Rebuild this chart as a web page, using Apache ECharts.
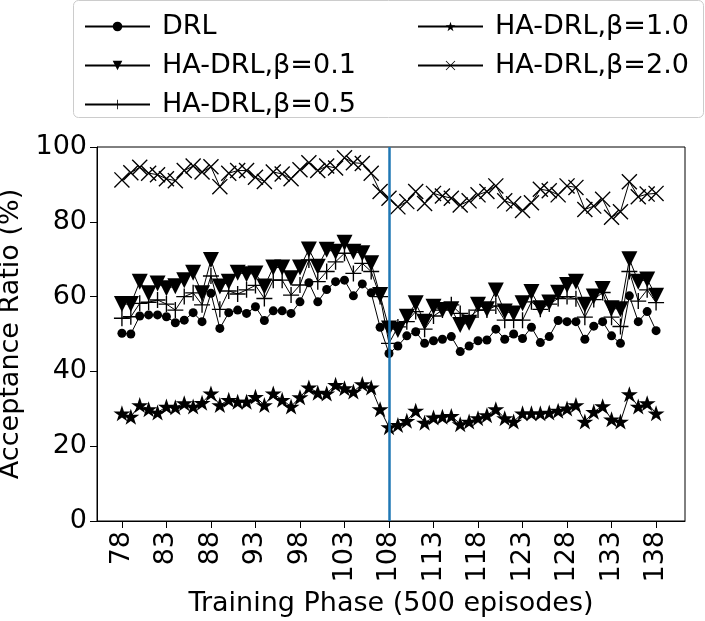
<!DOCTYPE html>
<html>
<head>
<meta charset="utf-8">
<script src="https://cdn.jsdelivr.net/npm/echarts@6/dist/echarts.min.js"></script>
<style>
  html, body { margin: 0; padding: 0; background: #fff; }
  #chart { width: 705px; height: 621px; }
</style>
</head>
<body>
<div id="chart"></div>
<script>
// training phases (x axis)
const phases = [78, 79, 80, 81, 82, 83, 84, 85, 86, 87, 88, 89, 90, 91, 92, 93, 94, 95, 96, 97,
  98, 99, 100, 101, 102, 103, 104, 105, 106, 107, 108, 109, 110, 111, 112, 113, 114, 115, 116, 117,
  118, 119, 120, 121, 122, 123, 124, 125, 126, 127, 128, 129, 130, 131, 132, 133, 134, 135, 136, 137, 138];
const xTicks = [78, 83, 88, 93, 98, 103, 108, 113, 118, 123, 128, 133, 138];
const splitPhase = 108;

// acceptance ratio (%) per series
const drl = [50.2, 50.0, 54.8, 55.1, 55.1, 54.6, 53.0, 53.7, 55.7, 53.3,
  60.9, 51.5, 55.7, 56.4, 55.5, 57.3, 53.6, 56.2, 56.2, 55.5,
  58.6, 63.7, 58.6, 61.9, 64.0, 64.4, 60.2, 63.4, 61.0, 51.8,
  44.8, 46.8, 49.5, 50.6, 47.5, 48.2, 48.6, 49.3, 45.3, 46.8,
  48.2, 48.4, 51.3, 48.6, 50.0, 48.8, 51.8, 47.7, 49.3, 53.6,
  53.3, 53.3, 48.6, 52.1, 53.3, 49.5, 47.5, 60.2, 53.3, 56.0, 50.9];
const beta01 = [58.0, 58.0, 64.0, 60.9, 63.5, 62.2, 62.8, 64.4, 66.4, 60.9,
  69.8, 62.7, 64.0, 66.4, 66.0, 66.2, 62.7, 67.8, 67.8, 64.9,
  67.8, 72.6, 68.0, 72.5, 72.0, 74.4, 72.0, 71.6, 68.9, 60.4,
  51.5, 51.1, 54.6, 58.2, 53.3, 57.3, 56.4, 56.6, 52.4, 53.0,
  57.8, 56.6, 61.6, 56.0, 55.5, 58.2, 61.2, 56.9, 58.4, 61.0,
  63.1, 64.0, 57.8, 60.0, 62.0, 56.9, 56.6, 70.0, 64.0, 64.6, 60.2];
const beta05 = [54.2, 54.6, 58.2, 58.5, 59.1, 58.0, 56.4, 60.0, 61.0, 57.8,
  65.5, 56.6, 61.5, 60.7, 61.8, 63.0, 59.5, 64.4, 64.4, 60.4,
  63.1, 69.8, 64.0, 66.7, 69.3, 71.6, 66.2, 68.9, 66.7, 60.0,
  47.5, 51.9, 53.3, 56.0, 51.3, 54.8, 56.4, 57.8, 55.5, 54.5,
  56.4, 56.4, 57.5, 53.7, 53.7, 53.7, 58.6, 56.6, 58.0, 59.5,
  60.0, 59.4, 54.5, 59.2, 61.1, 54.5, 52.0, 66.7, 58.8, 61.8, 58.4];
const beta10 = [28.8, 27.9, 31.0, 29.9, 29.0, 30.6, 30.4, 31.5, 30.6, 31.6,
  34.1, 31.0, 32.4, 31.9, 31.9, 33.2, 31.0, 34.1, 32.4, 30.6,
  33.1, 35.7, 34.3, 34.1, 36.4, 35.5, 34.6, 36.6, 35.7, 29.9,
  25.1, 25.7, 26.8, 29.5, 26.3, 27.7, 27.9, 28.1, 25.9, 26.6,
  27.5, 28.3, 29.9, 27.5, 26.6, 28.8, 28.8, 28.8, 29.0, 29.5,
  30.1, 31.0, 26.6, 29.2, 30.7, 27.2, 26.6, 33.9, 30.6, 31.5, 28.8];
const beta20 = [91.2, 93.1, 94.6, 93.0, 92.6, 91.5, 91.0, 93.7, 94.9, 93.3,
  94.7, 89.4, 93.0, 93.7, 93.7, 91.9, 90.8, 93.3, 92.8, 91.5,
  93.9, 95.8, 93.7, 94.9, 94.4, 97.1, 95.8, 95.6, 93.0, 88.1,
  86.3, 84.0, 85.4, 88.1, 84.9, 87.6, 86.9, 86.3, 84.5, 85.6,
  87.2, 88.1, 89.6, 85.6, 84.8, 83.0, 85.1, 88.7, 88.3, 87.2,
  89.6, 89.2, 83.3, 84.2, 86.0, 81.2, 82.7, 90.7, 86.7, 87.4, 87.6];

const names = ["DRL", "HA-DRL,β=0.1", "HA-DRL,β=0.5", "HA-DRL,β=1.0", "HA-DRL,β=2.0"];

// matplotlib-like markers
const triDown = "path://M-1,-1L1,-1L0,1Z";
const plus = "path://M-0.085,-1H0.085V-0.085H1V0.085H0.085V1H-0.085V0.085H-1V-0.085H-0.085Z";
const star = "path://M0,-1L0.225,-0.309L0.951,-0.309L0.363,0.118L0.588,0.809L0,0.382L-0.588,0.809L-0.363,0.118L-0.951,-0.309L-0.225,-0.309Z";
const cross = "path://M-0.88,-1L1,0.88L0.88,1L-1,-0.88Z M0.88,-1L1,-0.88L-0.88,1L-1,0.88Z";

const font = "DejaVu Sans";

function pairs(values) {
  return phases.map((p, i) => [p, values[i]]);
}

function makeSeries(name, values, symbol, size) {
  return {
    name: name,
    type: "line",
    data: pairs(values),
    symbol: symbol,
    symbolSize: size,
    showAllSymbol: true,
    color: "#000",
    lineStyle: { color: "#000", width: 1 },
    itemStyle: { color: "#000" },
    emphasis: { disabled: true },
  };
}

const series = [
  makeSeries(names[0], drl, "circle", 9),
  makeSeries(names[1], beta01, triDown, [16, 16]),
  makeSeries(names[2], beta05, plus, 16),
  makeSeries(names[3], beta10, star, [17, 16]),
  makeSeries(names[4], beta20, cross, 16),
];
series[4].markLine = {
  silent: true,
  symbol: "none",
  label: { show: false },
  lineStyle: { color: "#1f77b4", width: 2.5, type: "solid" },
  data: [{ xAxis: splitPhase }],
};

const legendBase = {
  orient: "vertical",
  top: 12,
  padding: 0,
  itemGap: 10,
  itemWidth: 65,
  itemHeight: 12,
  selectedMode: false,
  textStyle: { fontFamily: font, fontSize: 27, lineHeight: 29, color: "#000", padding: [0, 0, 0, 7] },
};

const chart = echarts.init(document.getElementById("chart"));
chart.setOption({
  animation: false,
  backgroundColor: "#fff",
  graphic: [{
    type: "rect",
    shape: { x: 73.5, y: 0.5, width: 630, height: 117, r: 5 },
    style: { fill: "none", stroke: "#cccccc", lineWidth: 1 },
    z: 0,
  }],
  legend: [
    Object.assign({}, legendBase, { left: 84, data: names.slice(0, 3) }),
    Object.assign({}, legendBase, { left: 417, data: names.slice(3) }),
  ],
  grid: {
    left: 97, right: 20, top: 147, bottom: 100,
    show: true, borderColor: "#000", borderWidth: 1,
    containLabel: false,
    outerBoundsMode: "none",
  },
  xAxis: {
    type: "value",
    min: 75.2,
    max: 141.25,
    name: "Training Phase (500 episodes)",
    nameLocation: "middle",
    nameGap: 68,
    nameTextStyle: { fontFamily: font, fontSize: 27, color: "#000" },
    axisLine: { show: true, onZero: false, lineStyle: { color: "#000", width: 1 } },
    axisTick: { show: true, inside: false, length: 7, customValues: xTicks, lineStyle: { color: "#000" } },
    axisLabel: { customValues: xTicks, rotate: 90, margin: 10, fontFamily: font, fontSize: 27, color: "#000" },
    splitLine: { show: false },
  },
  yAxis: {
    type: "value",
    min: 0,
    max: 100,
    interval: 20,
    name: "Acceptance Ratio (%)",
    nameLocation: "middle",
    nameGap: 65,
    nameTextStyle: { fontFamily: font, fontSize: 27, color: "#000" },
    axisLine: { show: true, lineStyle: { color: "#000", width: 1 } },
    axisTick: { show: true, inside: false, length: 7, lineStyle: { color: "#000" } },
    axisLabel: { margin: 10, fontFamily: font, fontSize: 27, color: "#000" },
    splitLine: { show: false },
  },
  series: series,
});
</script>
</body>
</html>
